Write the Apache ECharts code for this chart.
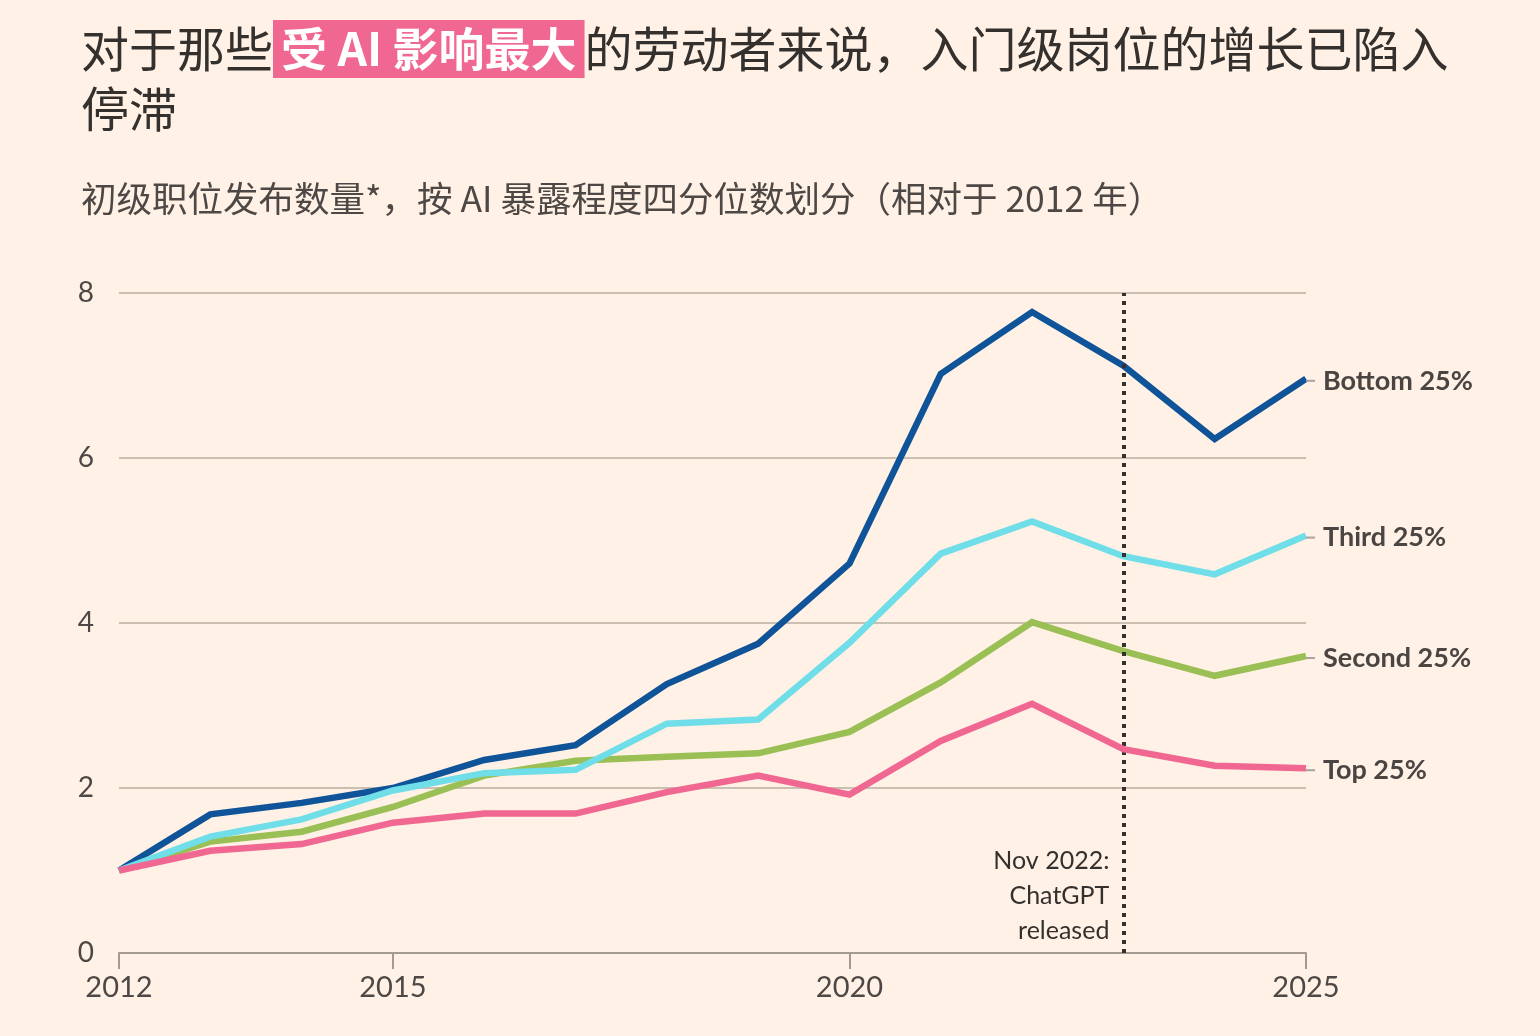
<!DOCTYPE html>
<html>
<head>
<meta charset="utf-8">
<script src="https://cdn.jsdelivr.net/npm/echarts@6/dist/echarts.min.js"></script>
<style>
  html, body { margin: 0; padding: 0; background: #fff1e5; }
  #chart { width: 1540px; height: 1036px; }
</style>
</head>
<body>
<div id="chart"></div>
<script>
// 年份（类目轴）
const years = ['2012', '2013', '2014', '2015', '2016', '2017', '2018', '2019',
  '2020', '2021', '2022', '2023', '2024', '2025'];
const yearLabels = ['2012', '2015', '2020', '2025'];

// 各四分位数的数值（相对于 2012 年）
const bottom25 = [1.0, 1.68, 1.82, 2.0, 2.34, 2.52, 3.26, 3.75, 4.72, 7.02, 7.77, 7.12, 6.23, 6.96];
const second25 = [1.0, 1.35, 1.47, 1.77, 2.15, 2.33, 2.38, 2.42, 2.68, 3.28, 4.01, 3.66, 3.36, 3.60];
const third25 = [1.0, 1.41, 1.62, 1.97, 2.18, 2.22, 2.78, 2.83, 3.76, 4.84, 5.23, 4.81, 4.59, 5.06];
const top25 = [1.0, 1.24, 1.32, 1.58, 1.69, 1.69, 1.95, 2.15, 1.92, 2.57, 3.02, 2.47, 2.27, 2.24];

const chatgptYear = '2023';

const cjk = '"Noto Sans CJK SC", sans-serif';
const latin = 'Lato, "Noto Sans", sans-serif';
const textColor = '#33302e';

const chart = echarts.init(document.getElementById('chart'));

const showYear = (idx, val) => yearLabels.includes(val);

function makeSeries(name, data, color, z) {
  return {
    name: name,
    type: 'line',
    data: data,
    symbol: 'none',
    z: z,
    lineStyle: { color: color, width: 6.5, join: 'miter' },
    emphasis: { disabled: true },
    endLabel: {
      show: true,
      distance: 0,
      offset: [0, 2],
      formatter: '{d|}{t|' + name + '}',
      rich: {
        d: { width: 9, height: 2, backgroundColor: '#a8a39f' },
        t: { fontFamily: latin, fontSize: 27, fontWeight: 'bold', color: '#4a4543', padding: [0, 0, 0, 8] }
      }
    }
  };
}

const bottomSeries = makeSeries('Bottom 25%', bottom25, '#0f5499', 3);
// ChatGPT 发布的竖虚线
bottomSeries.markLine = {
  silent: true,
  symbol: 'none',
  label: { show: false },
  lineStyle: { color: '#33302e', width: 4, type: [4, 5] },
  data: [{ xAxis: chatgptYear }]
};

const option = {
  backgroundColor: '#fff1e5',
  animation: false,
  title: [
    {
      left: 76,
      top: 14,
      text: '{a|对于那些}{h|受 AI 影响最大}{a|的劳动者来说，入门级岗位的增长已陷入}\n{a|停滞}',
      textStyle: {
        rich: {
          a: { fontFamily: cjk, fontSize: 48, fontWeight: 'normal', color: textColor, lineHeight: 60 },
          h: {
            fontFamily: cjk, fontSize: 46, fontWeight: 'bold', color: '#ffffff',
            backgroundColor: '#f06792', lineHeight: 49, padding: [6, 8, 6, 8]
          }
        }
      }
    },
    {
      left: 76,
      top: 176,
      text: '初级职位发布数量*，按 AI 暴露程度四分位数划分（相对于 2012 年）',
      textStyle: { fontFamily: cjk, fontSize: 35.5, fontWeight: 'normal', color: '#4d4845' }
    }
  ],
  grid: { left: 119, right: 234, top: 293, bottom: 83 },
  xAxis: {
    type: 'category',
    data: years,
    boundaryGap: false,
    axisLine: { lineStyle: { color: '#a39a92', width: 2 } },
    axisTick: { show: true, interval: showYear, length: 16, lineStyle: { color: '#a39a92', width: 2 } },
    axisLabel: { interval: showYear, fontFamily: latin, fontSize: 29, color: '#4d4845', margin: 20 },
    splitLine: { show: false }
  },
  yAxis: {
    type: 'value',
    min: 0,
    max: 8,
    interval: 2,
    axisLine: { show: false },
    axisTick: { show: false },
    axisLabel: { fontFamily: latin, fontSize: 28, color: '#4d4845', margin: 25 },
    splitLine: { lineStyle: { color: '#cbbfb2', width: 2 } }
  },
  series: [
    bottomSeries,
    makeSeries('Second 25%', second25, '#9abf55', 2),
    makeSeries('Third 25%', third25, '#6fdee8', 4),
    makeSeries('Top 25%', top25, '#f06792', 5)
  ]
};

chart.setOption(option);

// 注释文字，位置由坐标轴换算
const p = chart.convertToPixel({ xAxisIndex: 0, yAxisIndex: 0 }, [chatgptYear, 0]);
chart.setOption({
  graphic: [{
    type: 'text',
    x: p[0] - 14,
    y: p[1] - 110,
    style: {
      text: 'Nov 2022:\nChatGPT\nreleased',
      align: 'right',
      verticalAlign: 'top',
      fontFamily: latin,
      fontSize: 25,
      lineHeight: 35,
      fill: textColor
    }
  }]
});
</script>
</body>
</html>
